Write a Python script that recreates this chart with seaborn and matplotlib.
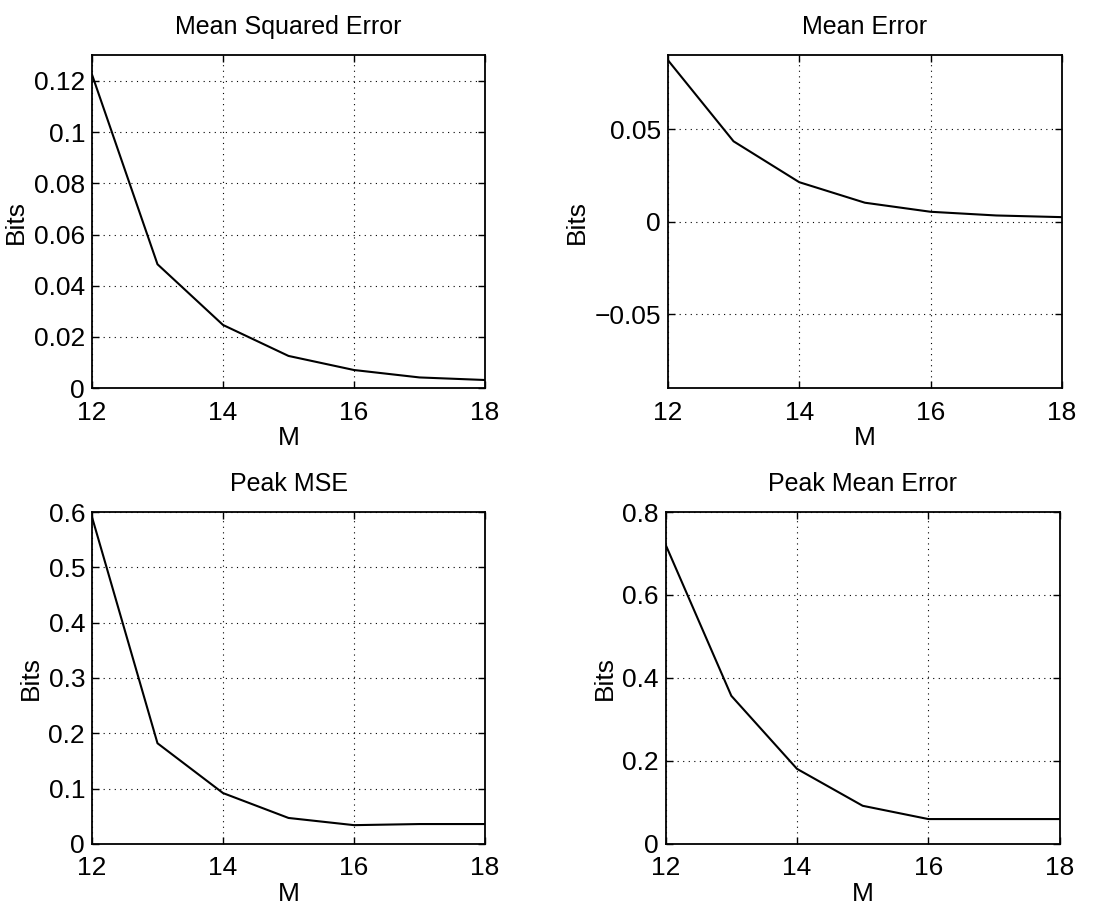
import numpy as np
import pandas as pd
import matplotlib
matplotlib.use("Agg")
import matplotlib.pyplot as plt
import seaborn as sns

# data
M = [12, 13, 14, 15, 16, 17, 18]
mse = [0.1225, 0.0484, 0.0247, 0.0126, 0.0071, 0.0042, 0.0032]
mean_err = [0.0874, 0.0435, 0.0214, 0.0103, 0.0054, 0.0034, 0.0025]
peak_mse = [0.591, 0.182, 0.092, 0.047, 0.034, 0.036, 0.036]
peak_mean_err = [0.721, 0.357, 0.181, 0.092, 0.060, 0.060, 0.060]

titles = ["Mean Squared Error", "Mean Error", "Peak MSE", "Peak Mean Error"]
series = [mse, mean_err, peak_mse, peak_mean_err]
ylims = [(0, 0.13), (-0.09, 0.09), (0, 0.6), (0, 0.8)]
yticks = [
    [0, 0.02, 0.04, 0.06, 0.08, 0.1, 0.12],
    [-0.05, 0, 0.05],
    [0, 0.1, 0.2, 0.3, 0.4, 0.5, 0.6],
    [0, 0.2, 0.4, 0.6, 0.8],
]
yticklabels = [
    ["0", "0.02", "0.04", "0.06", "0.08", "0.1", "0.12"],
    ["\u22120.05", "0", "0.05"],
    ["0", "0.1", "0.2", "0.3", "0.4", "0.5", "0.6"],
    ["0", "0.2", "0.4", "0.6", "0.8"],
]

sns.set_theme(style="white")
plt.rcParams["font.family"] = ["Liberation Sans", "DejaVu Sans"]
plt.rcParams["text.color"] = "black"
plt.rcParams["axes.labelcolor"] = "black"

fig = plt.figure(figsize=(11.15, 9.07), dpi=100)
positions = [
    [0.0825, 0.572, 0.3525, 0.367],
    [0.599, 0.572, 0.3534, 0.367],
    [0.0825, 0.0695, 0.3525, 0.366],
    [0.597, 0.0695, 0.3534, 0.366],
]

for i in range(4):
    ax = fig.add_axes(positions[i])
    df = pd.DataFrame({"M": M, "val": series[i]})
    sns.lineplot(data=df, x="M", y="val", ax=ax, color="black", linewidth=1.5)
    ax.set_xlim(12, 18)
    ax.set_ylim(*ylims[i])
    ax.set_xticks([12, 14, 16, 18])
    ax.set_yticks(yticks[i])
    ax.set_yticklabels(yticklabels[i])
    ax.grid(True, linestyle=(0, (1, 4)), color="black", linewidth=0.8)
    for s in ax.spines.values():
        s.set_color("black")
        s.set_linewidth(1.3)
    ax.tick_params(direction="in", length=5, width=1, colors="black",
                   labelsize=19, top=True, right=True, bottom=True, left=True)
    ax.tick_params(axis="x", pad=9)
    ax.tick_params(axis="y", pad=5)
    ax.set_xlabel("M", fontsize=19, labelpad=1, color="black")
    ax.set_ylabel("Bits", fontsize=19, labelpad=4, color="black")
    ax.set_title(titles[i], fontsize=18, pad=15, color="black")

fig.savefig("out.png", dpi=100)
